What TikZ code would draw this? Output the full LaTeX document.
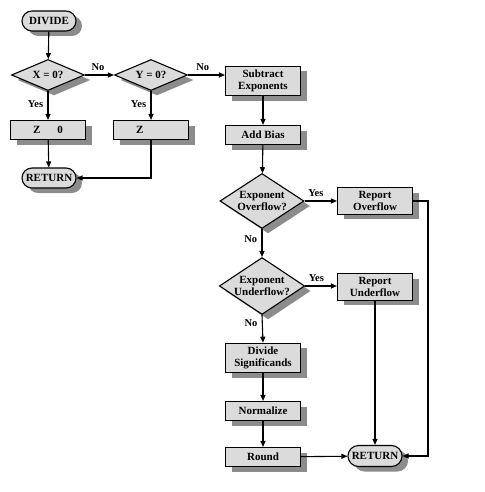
\documentclass[tikz,border=0pt]{standalone}
\usepackage{fontspec}
\setmainfont{Liberation Serif}
\usetikzlibrary{shapes.geometric,shapes.misc,shadows,arrows.meta}
\begin{document}
\begin{tikzpicture}[x=1pt,y=-1pt,
    every node/.style={font=\fontsize{11}{12.5}\selectfont\bfseries},
    flowshade/.style={draw=black,line width=1.1pt,fill=black!14,
      drop shadow={shadow xshift=6pt,shadow yshift=-5pt,fill=black!45,opacity=1}},
    stepbox/.style={flowshade,rectangle,minimum width=75pt,minimum height=19pt,
      inner xsep=2pt,inner ysep=3.5pt,align=center},
    testbox/.style={flowshade,diamond,aspect=1.5,inner sep=0pt,align=center},
    endbox/.style={flowshade,rounded rectangle,minimum width=56pt,minimum height=20pt,inner sep=1pt},
    flow/.style={line width=1.1pt,-{Triangle[length=6pt,width=5pt]}},
    tag/.style={font=\fontsize{10.5}{11}\selectfont\bfseries}]
  \useasboundingbox (0,0) rectangle (484,492);
  % left column
  \node[endbox] (divide) at (49,21) {DIVIDE};
  \node[testbox,minimum width=73pt,minimum height=31pt] (xzero) at (48,75) {X = 0?};
  \node[testbox,minimum width=73pt,minimum height=31pt] (yzero) at (151,75) {Y = 0?};
  \node[stepbox] (zzero) at (48,130) {Z\hspace{17pt}0};
  \node[stepbox] (zinf) at (151,130) {Z\hspace{17pt}\phantom{0}};
  \node[endbox] (retleft) at (49,178) {RETURN};
  % main column
  \node[stepbox] (subexp) at (263,81) {Subtract\\Exponents};
  \node[stepbox] (bias) at (263,135) {Add Bias};
  \node[testbox,minimum width=84pt,minimum height=55pt] (ovf) at (262,201) {Exponent\\Overflow?};
  \node[stepbox] (repovf) at (375,201) {Report\\Overflow};
  \node[testbox,minimum width=84pt,minimum height=55pt] (unf) at (262,286) {Exponent\\Underflow?};
  \node[stepbox] (repunf) at (375,287) {Report\\Underflow};
  \node[stepbox] (divsig) at (263,358) {Divide\\Significands};
  \node[stepbox] (norm) at (263,411) {Normalize};
  \node[stepbox] (round) at (263,457) {Round};
  \node[endbox,minimum height=21pt] (retright) at (375,456) {RETURN};
  \coordinate (bend) at (428,456);
  % connectors
  \draw[flow] (divide) -- (xzero);
  \draw[flow] (xzero.east) -- (yzero.west) node[tag,pos=0.45,above=1pt] {No};
  \draw[flow] (yzero.east) -- (yzero.east -| subexp.west) node[tag,pos=0.4,above=1pt] {No};
  \draw[flow] (xzero) -- (zzero) node[tag,pos=0.45,left=1pt] {Yes};
  \draw[flow] (yzero) -- (zinf) node[tag,pos=0.45,left=1pt] {Yes};
  \draw[flow] (zzero) -- (retleft);
  \draw[flow] (zinf.south) |- (retleft.east);
  \draw[flow] (subexp) -- (bias);
  \draw[flow] (bias) -- (ovf);
  \draw[flow] (ovf.east) -- (repovf.west) node[tag,pos=0.35,above=1pt] {Yes};
  \draw[flow] (ovf.south) -- (unf.north) node[tag,pos=0.35,left=1pt] {No};
  \draw[flow] (unf.east) -- (unf.east -| repunf.west) node[tag,pos=0.35,above=1pt] {Yes};
  \draw[flow] (unf.south) -- (divsig.north) node[tag,pos=0.3,left=1pt] {No};
  \draw[flow] (divsig) -- (norm);
  \draw[flow] (norm) -- (round);
  \draw[flow] (round) -- (retright);
  \draw[flow] (repunf) -- (retright);
  \draw[flow] (repovf.east) -- (repovf.east -| bend) -- (bend) -- (retright.east);
\end{tikzpicture}
\end{document}
